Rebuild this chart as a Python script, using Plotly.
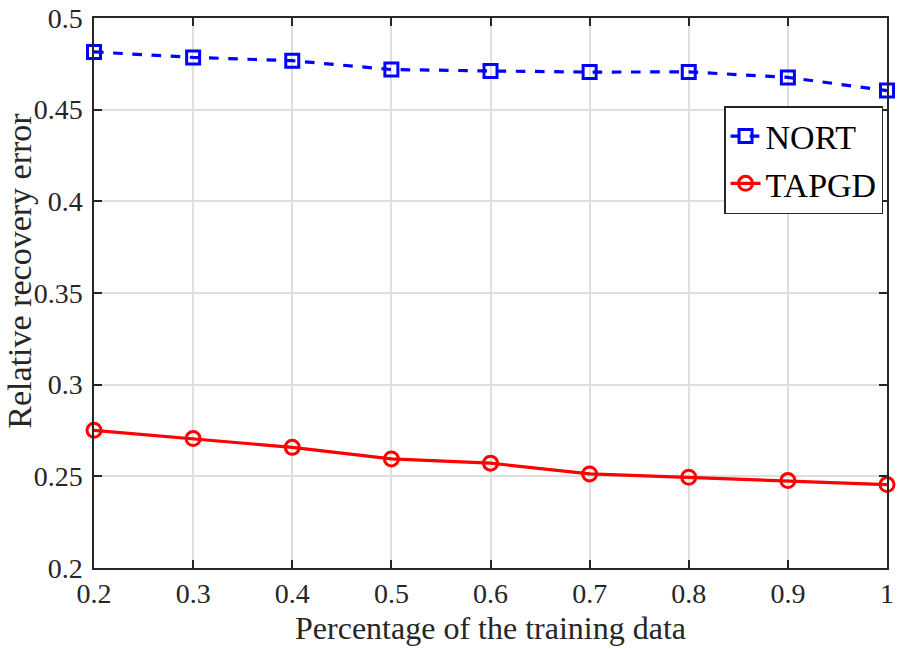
import plotly.graph_objects as go

x = [0.2, 0.3, 0.4, 0.5, 0.6, 0.7, 0.8, 0.9, 1.0]
nort = [0.4815, 0.4785, 0.4767, 0.4719, 0.4711, 0.4705, 0.4706, 0.4676, 0.4604]
tapgd = [0.2751, 0.2706, 0.2658, 0.2595, 0.2572, 0.2513, 0.2495, 0.2477, 0.2455]
xticks = [0.2, 0.3, 0.4, 0.5, 0.6, 0.7, 0.8, 0.9, 1.0]
xticklabels = ["0.2", "0.3", "0.4", "0.5", "0.6", "0.7", "0.8", "0.9", "1"]
yticks = [0.2, 0.25, 0.3, 0.35, 0.4, 0.45, 0.5]
yticklabels = ["0.2", "0.25", "0.3", "0.35", "0.4", "0.45", "0.5"]
x_title = "Percentage of the training data"
y_title = "Relative recovery error"

font = "Liberation Serif"

fig = go.Figure()
fig.add_trace(go.Scatter(
    x=x, y=nort, name="NORT", mode="lines+markers",
    line=dict(color="#0000ff", width=3.2, dash="dash"),
    marker=dict(symbol="square-open", size=13, color="#0000ff", line=dict(width=3)),
    cliponaxis=False,
))
fig.add_trace(go.Scatter(
    x=x, y=tapgd, name="TAPGD", mode="lines+markers",
    line=dict(color="#ff0000", width=3.2),
    marker=dict(symbol="circle-open", size=14, color="#ff0000", line=dict(width=3)),
    cliponaxis=False,
))

axis_common = dict(
    showline=True, linecolor="#262626", linewidth=1.5, mirror="ticks",
    ticks="inside", ticklen=8, tickwidth=1.5, tickcolor="#262626",
    showgrid=True, gridcolor="#dfdfdf", gridwidth=1.5, zeroline=False,
    tickfont=dict(family=font, size=28, color="#262626"),
    automargin=False, ticklabeloverflow="allow",
)

fig.update_layout(
    width=897, height=649,
    margin=dict(l=94, r=10, t=18, b=81),
    paper_bgcolor="white", plot_bgcolor="white",
    font=dict(family=font, color="#262626"),
    showlegend=True,
    legend=dict(
        x=0.995, y=0.84, xanchor="right", yanchor="top",
        bordercolor="#262626", borderwidth=1.5, bgcolor="white",
        font=dict(family=font, size=34, color="black"),
        itemwidth=30, tracegroupgap=0,
    ),
    annotations=[dict(
        text=y_title, xref="paper", yref="paper", x=-0.095, y=0.54,
        xanchor="center", yanchor="middle", textangle=-90, showarrow=False,
        font=dict(family=font, size=34, color="#262626"),
    )],
)
fig.update_xaxes(
    range=[0.2, 1.0], tickvals=xticks, ticktext=xticklabels,
    title=dict(text=x_title, font=dict(family=font, size=32, color="#262626"), standoff=8),
    **axis_common,
)
fig.update_yaxes(
    range=[0.2, 0.5], tickvals=yticks, ticktext=yticklabels,
    ticklabelstandoff=4,
    **axis_common,
)

fig.write_html("out.html", config={"displayModeBar": False},
               post_script="document.body.style.margin='0';document.body.style.overflow='hidden';")
